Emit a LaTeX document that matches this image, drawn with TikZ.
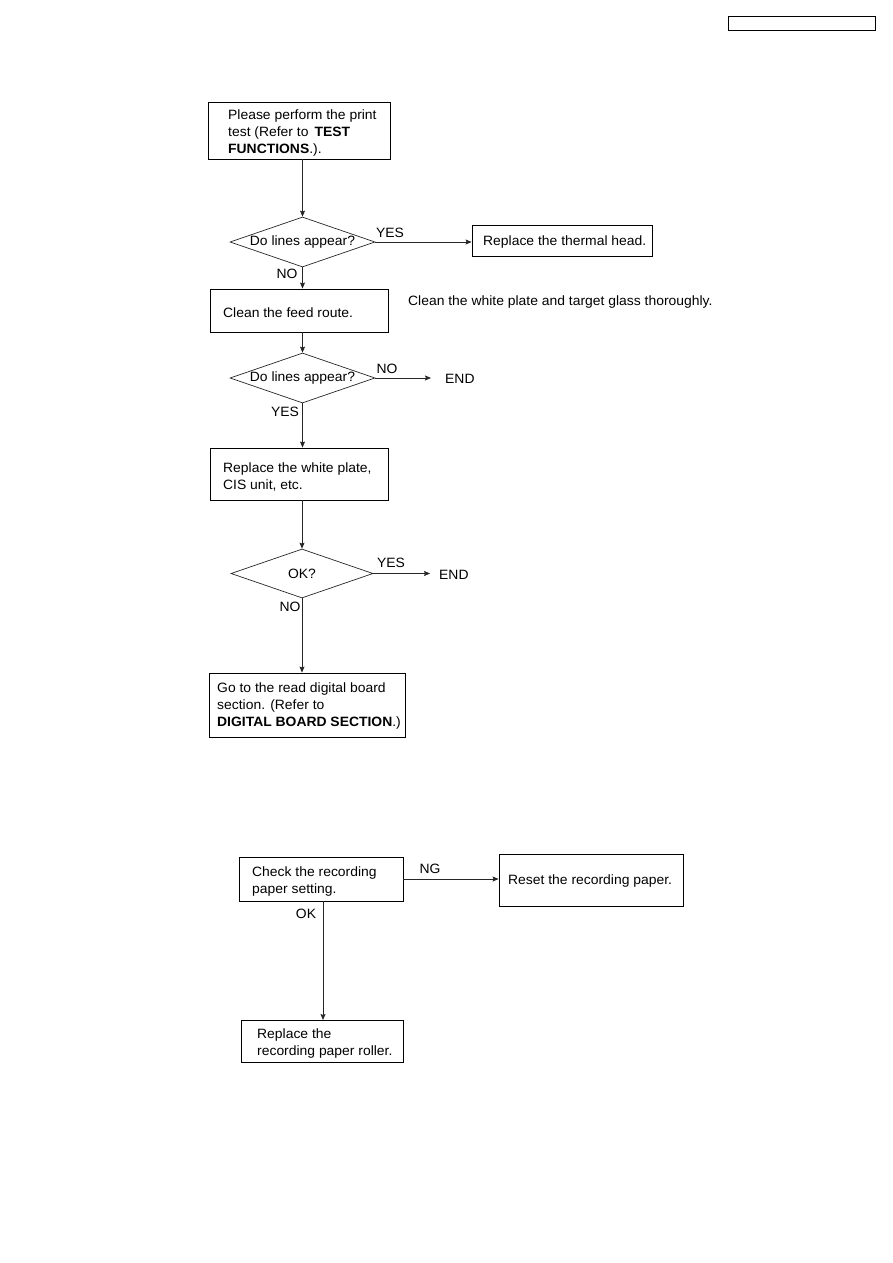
\documentclass[tikz,border=0pt]{standalone}
\usepackage{fontspec}
\setmainfont{Liberation Sans}[FakeStretch=1.03]
\usetikzlibrary{shapes.geometric,arrows.meta}
\tikzset{
  box/.style={draw=black, line width=0.9pt, rectangle, inner sep=0pt},
  dia/.style={draw=black!85, line width=0.7pt, diamond, aspect=2.9, inner sep=0pt, minimum width=145pt, minimum height=50pt, font=\fontsize{13.5}{17}\selectfont},
  txt/.style={inner sep=0pt, anchor=west, align=left, yshift=-1.5pt, font=\fontsize{13.5}{17}\selectfont},
  lbl/.style={inner sep=0pt, font=\fontsize{13.5}{17}\selectfont},
  arr/.style={draw=black!85, line width=0.7pt, -{Stealth[length=6pt,width=5pt,inset=1pt]}},
  ln/.style={draw=black!85, line width=0.7pt}
}
\newcommand{\boxat}[5]{\node[box, minimum width=#3-#1, minimum height=#4-#2] (#5) at ({(#1+#3)/2},{(#2+#4)/2}) {};}
\begin{document}
\begin{tikzpicture}[x=1pt,y=-1pt]
\useasboundingbox (0,0) rectangle (893,1263);
% header box
\boxat{728}{16}{875}{30}{hdr}
% chart 1
\boxat{208}{102}{390}{159}{b1}
\node[txt] (t1) at (228,132) {Please perform the print\\test (Refer to\hspace{0.45em}\textbf{TEST}\\\textbf{FUNCTIONS}.).};
\node[dia] (d1) at (302.5,242) {Do lines appear?};
\boxat{472}{225}{652}{256}{th}
\node[txt] (tth) at (483,241) {Replace the thermal head.};
\boxat{210}{289}{388}{332}{b2}
\node[txt] (t2) at (223,311) {Clean the feed route.};
\node[txt] (note) at (408,301) {Clean the white plate and target glass thoroughly.};
\node[dia] (d2) at (302.5,378) {Do lines appear?};
\node[txt] (end1) at (445,377) {END};
\boxat{210}{448}{388}{500}{b3}
\node[txt] (t3) at (223,475) {Replace the white plate,\\CIS unit, etc.};
\node[dia, minimum width=142pt, minimum height=49pt] (d3) at (302,573.5) {OK?};
\node[txt] (end2) at (439,573) {END};
\boxat{209}{673}{405}{737}{b4}
\node[txt] (t4) at (217,704.5) {Go to the read digital board\\section. (Refer to\\\textbf{DIGITAL BOARD SECTION}.)};
% labels
\node[lbl] (l1) at (390,233) {YES};
\node[lbl] (l2) at (287,274) {NO};
\node[lbl] (l3) at (387,369) {NO};
\node[lbl] (l4) at (285,412) {YES};
\node[lbl] (l5) at (391,563) {YES};
\node[lbl] (l6) at (290,607) {NO};
% connectors chart 1
\draw[arr] (b1.south -| d1.north) -- (d1.north);
\draw[arr] (d1.east) -- (d1.east -| th.west);
\draw[arr] (d1.south) -- (d1.south |- b2.north);
\draw[arr] (b2.south -| d2.north) -- (d2.north);
\draw[arr] (d2.east) -- ([xshift=-14pt]d2.east -| end1.west);
\draw[arr] (d2.south) -- (d2.south |- b3.north);
\draw[arr] (b3.south -| d3.north) -- (d3.north);
\draw[arr] (d3.east) -- ([xshift=-9pt]d3.east -| end2.west);
\draw[arr] (d3.south) -- (d3.south |- b4.north);
% chart 2
\boxat{239}{857}{403}{901}{b5}
\node[txt] (t5) at (252,879.5) {Check the recording\\paper setting.};
\boxat{499}{854}{683}{906}{b6}
\node[txt] (t6) at (508,879) {Reset the recording paper.};
\boxat{241}{1020}{403}{1062}{b7}
\node[txt] (t7) at (257,1041.5) {Replace the\\recording paper roller.};
\node[lbl] (l7) at (430,869) {NG};
\node[lbl] (l8) at (306,914) {OK};
\coordinate (c5) at (323,901);
\coordinate (c7) at (323,1020);
\draw[arr] (b5.east) -- (b5.east -| b6.west);
\draw[arr] (c5) -- (c7);
\end{tikzpicture}
\end{document}
